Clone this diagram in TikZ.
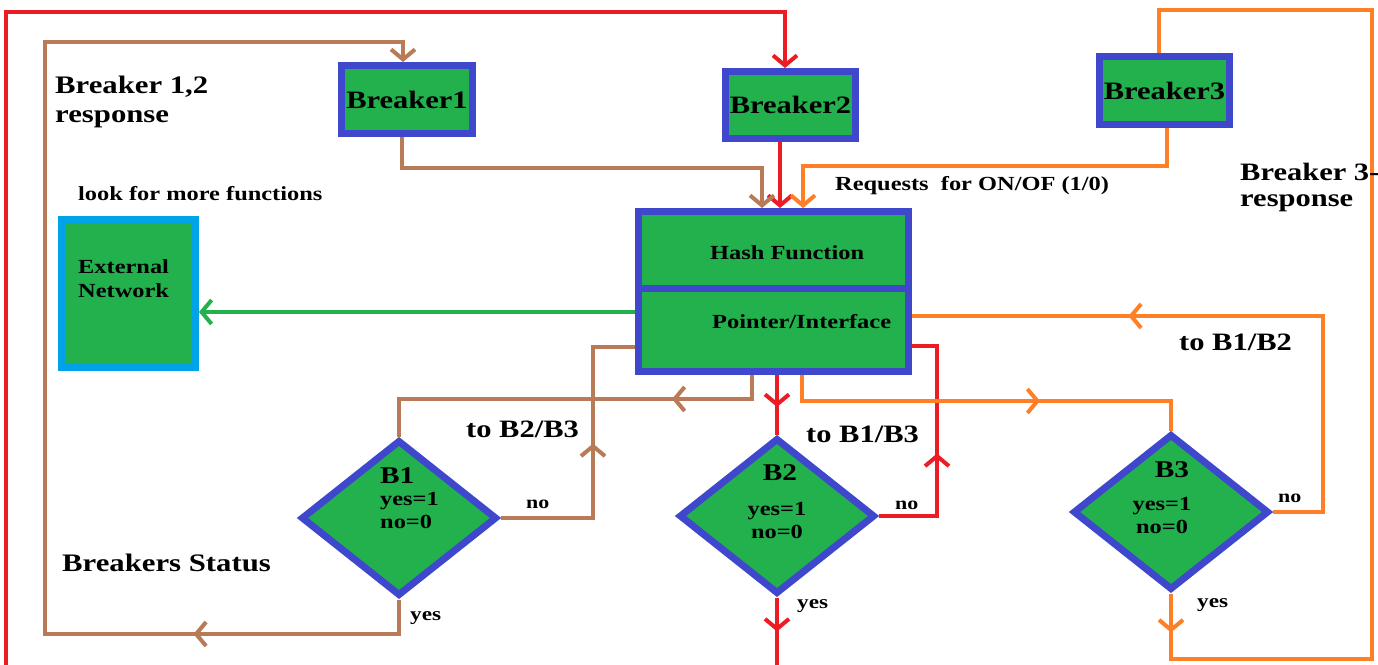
\documentclass[tikz,border=0pt]{standalone}
\usepackage{fontspec}
\setmainfont{Liberation Serif}[FakeStretch=1.22]
\usetikzlibrary{arrows.meta,shapes.geometric,decorations.markings}
\definecolor{pgreen}{RGB}{34,177,76}
\definecolor{pblue}{RGB}{63,72,204}
\definecolor{pred}{RGB}{237,28,36}
\definecolor{porange}{RGB}{255,127,39}
\definecolor{pbrown}{RGB}{185,122,87}
\definecolor{pcyan}{RGB}{0,162,232}
\tikzset{
 barb/.tip={Straight Barb[length=10pt,width=24pt]},
 box/.style={draw=pblue, line width=7pt, fill=pgreen, rectangle, inner sep=0pt},
 dia/.style={draw=pblue, line width=7pt, fill=pgreen, diamond, inner sep=0pt, minimum width=196pt, minimum height=156pt},
 wire/.style={line width=4pt},
 midarr/.style={postaction={decorate,decoration={markings,mark=at position #1 with {\arrow{barb}}}}},
 lbl/.style={inner sep=0pt, font=\bfseries\fontsize{#1}{#1}\selectfont},
}
\begin{document}
\begin{tikzpicture}[x=1pt,y=-1pt]
\useasboundingbox (0,0) rectangle (1378,664);
\fill[white] (0,0) rectangle (1378,664);
\clip (0,0) rectangle (1378,664);
% boxes
\node[box, minimum width=131pt, minimum height=68pt, font=\bfseries\fontsize{25}{25}\selectfont] (b1) at (407,99.5) {Breaker1};
\node[box, minimum width=130pt, minimum height=67pt, font=\bfseries\fontsize{25}{25}\selectfont] (b2) at (790.5,105) {Breaker2};
\node[box, minimum width=130pt, minimum height=68pt, font=\bfseries\fontsize{25}{25}\selectfont] (b3) at (1164.5,90.5) {Breaker3};
\node[box, minimum width=270pt, minimum height=76.5pt] (hashtop) at (773.5,249.75) {};
\node[box, minimum width=270pt, minimum height=83.5pt] (pointer) at (773.5,329.75) {};
\node[box, draw=pcyan, minimum width=134pt, minimum height=148pt] (ext) at (128.5,293.5) {};
\node[dia] (d1) at (399,518) {};
\node[dia] (d2) at (777,516) {};
\node[dia] (d3) at (1171,512) {};
% red
\draw[wire,pred,midarr=34pt,-{barb}] (d2.south) -- (777,667) -- (6,667) -- (6,12) -- (785,12) -- (b2.north -| 785,0);
\draw[wire,pred,-{barb}] (b2.south -| 780,0) -- (hashtop.north -| 780,0);
\draw[wire,pred,midarr=32pt] (pointer.south -| d2.north) -- (d2.north);
\draw[wire,pred,midarr=121pt] (d2.east) -- (937,516) -- (937,346) -- (pointer.east |- 0,346);
% brown
\draw[wire,pbrown,midarr=240pt,-{barb}] (d1.south) -- (399,634) -- (45,634) -- (45,42) -- (403,42) -- (b1.north -| 403,0);
\draw[wire,pbrown,-{barb}] (b1.south -| 402,0) -- (402,168) -- (762,168) -- (hashtop.north -| 762,0);
\draw[wire,pbrown,midarr=104pt] (pointer.south -| 752,0) -- (752,399) -- (399,399) -- (d1.north);
\draw[wire,pbrown,midarr=167pt] (d1.east) -- (593,518) -- (593,347) -- (pointer.west |- 0,347);
% orange
\draw[wire,porange,-{barb}] (b3.south -| 1167,0) -- (1167,166) -- (803,166) -- (hashtop.north -| 803,0);
\draw[wire,porange,midarr=39pt] (d3.south) -- (1171,659) -- (1372,659) -- (1372,10) -- (1159,10) -- (b3.north -| 1159,0);
\draw[wire,porange,midarr=264pt] (pointer.south -| 802,0) -- (802,401) -- (1171,401) -- (d3.north);
\draw[wire,porange,midarr=441pt] (d3.east) -- (1323,512) -- (1323,316) -- (pointer.east |- 0,316);
% green
\draw[wire,pgreen,-{barb}] (pointer.west |- 0,312) -- (ext.east |- 0,312);
% labels
\node[lbl=25.2, anchor=base west] (l1) at (55,93) {Breaker 1,2};
\node[lbl=25.2, anchor=base west] (l2) at (55,122) {response};
\node[lbl=20, anchor=base west] (l3) at (78,200) {look for more functions};
\node[lbl=20, anchor=base west] (l4) at (78,273) {External};
\node[lbl=20, anchor=base west] (l5) at (78,297) {Network};
\node[lbl=20, anchor=base west] (l6) at (710,259) {Hash Function};
\node[lbl=20, anchor=base west] (l7) at (712,328) {Pointer/Interface};
\node[lbl=20, anchor=base west] (l8) at (835,190) {Requests\ \ for ON/OF (1/0)};
\node[lbl=25, anchor=base west] (l9) at (1240,180) {Breaker 3-};
\node[lbl=25, anchor=base west] (l10) at (1240,206) {response};
\node[lbl=25, anchor=base west] (l11) at (466,437) {to B2/B3};
\node[lbl=24, anchor=base west] (l12) at (380,483) {B1};
\node[lbl=20, anchor=base west] (l13) at (380,505) {yes=1};
\node[lbl=20, anchor=base west] (l14) at (380,528) {no=0};
\node[lbl=18, anchor=base west] (l15) at (526,508) {no};
\node[lbl=19, anchor=base west] (l16) at (410,620) {yes};
\node[lbl=25, anchor=base west] (l17) at (806,442) {to B1/B3};
\node[lbl=24, anchor=base] (l18) at (780,480) {B2};
\node[lbl=20, anchor=base] (l19) at (777,515) {yes=1};
\node[lbl=20, anchor=base] (l20) at (777,538) {no=0};
\node[lbl=18, anchor=base west] (l21) at (895,509) {no};
\node[lbl=19, anchor=base west] (l22) at (797,608) {yes};
\node[lbl=25, anchor=base west] (l23) at (1179,350) {to B1/B2};
\node[lbl=24, anchor=base] (l24) at (1172,477) {B3};
\node[lbl=20, anchor=base] (l25) at (1162,510) {yes=1};
\node[lbl=20, anchor=base] (l26) at (1162,533) {no=0};
\node[lbl=18, anchor=base west] (l27) at (1278,502) {no};
\node[lbl=19, anchor=base west] (l28) at (1197,607) {yes};
\node[lbl=25.2, anchor=base west] (l29) at (62,571) {Breakers Status};
\end{tikzpicture}
\end{document}
